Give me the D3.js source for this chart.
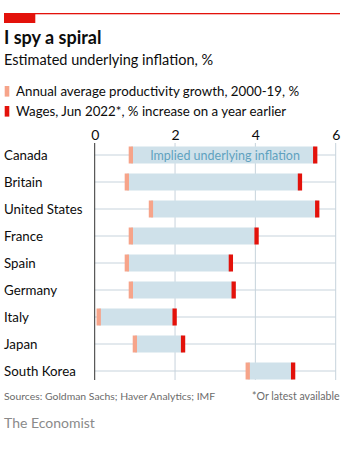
<!DOCTYPE html>
<html><head><meta charset="utf-8">
<script src="https://cdnjs.cloudflare.com/ajax/libs/d3/7.8.5/d3.min.js"></script>
<style>body{margin:0;background:#fff}svg{display:block}text{font-family:Lato,"Noto Sans",sans-serif}</style>
</head><body><svg id="c" width="364" height="453"></svg>
<script>
const countries = ["Canada","Britain","United States","France","Spain","Germany","Italy","Japan","South Korea"];
const productivity = [0.9,0.8,1.4,0.9,0.8,0.9,0.1,1.0,3.81];
const wages = [5.49,5.11,5.54,4.03,3.39,3.46,1.99,2.2,4.94];
const xTicks = [0,2,4,6];

const svg = d3.select("#c");
const x = d3.scaleLinear().domain([0,6]).range([94.7,335.7]);
const y = d3.scaleBand().domain(countries).range([141.5,384.5]).paddingInner(0.37).paddingOuter(0.185);
const bh = y.bandwidth();

// header
svg.append("rect").attr("x",4).attr("y",13).attr("width",336).attr("height",1.3).attr("fill","#e3120b");
svg.append("rect").attr("x",4).attr("y",13).attr("width",31.3).attr("height",10).attr("fill","#e3120b");
svg.append("text").attr("x",4).attr("y",44).attr("font-size",18).attr("font-weight",700).attr("fill","#0c0c0c").text("I spy a spiral");
svg.append("text").attr("x",4).attr("y",64.5).attr("font-size",14.5).attr("fill","#0c0c0c").text("Estimated underlying inflation, %");
// legend
const leg = [["#f6a48a","Annual average productivity growth, 2000-19, %",86],["#e3120b","Wages, Jun 2022*, % increase on a year earlier",106]];
leg.forEach(l=>{
  svg.append("rect").attr("x",4.7).attr("y",l[2]).attr("width",4.6).attr("height",10.6).attr("fill",l[0]);
  svg.append("text").attr("x",16).attr("y",l[2]+10).attr("font-size",13.3).attr("fill","#0c0c0c").text(l[1]);
});

// grid
const g = svg.append("g");
g.selectAll(".vg").data(xTicks.slice(1)).join("line").attr("x1",d=>x(d)).attr("x2",d=>x(d))
 .attr("y1",143).attr("y2",380).attr("stroke","#c7d3dc").attr("stroke-width",1);
g.selectAll(".hg").data(countries).join("line").attr("x1",x(0)).attr("x2",x(6))
 .attr("y1",d=>y(d)+bh/2).attr("y2",d=>y(d)+bh/2).attr("stroke","#c7d3dc").attr("stroke-width",1);
// ticks labels
const ax = svg.append("g").attr("transform","translate(0,140)").call(d3.axisTop(x).tickValues(xTicks).tickFormat(d3.format("d")).tickSize(0).tickPadding(0));
ax.select(".domain").remove();
ax.selectAll("text").attr("font-size",14).attr("fill","#0c0c0c").attr("font-family","Lato,sans-serif");

// bars
g.selectAll(".bar").data(countries).join("rect")
 .attr("x",(d,i)=>x(productivity[i])).attr("width",(d,i)=>x(wages[i])-x(productivity[i]))
 .attr("y",d=>y(d)).attr("height",bh).attr("fill","#cfe1ea");
g.selectAll(".pm").data(countries).join("rect")
 .attr("x",(d,i)=>x(productivity[i])-2.15).attr("width",4.3)
 .attr("y",d=>y(d)).attr("height",bh).attr("fill","#f6a48a");
g.selectAll(".wm").data(countries).join("rect")
 .attr("x",(d,i)=>x(wages[i])-2.15).attr("width",4.3)
 .attr("y",d=>y(d)).attr("height",bh).attr("fill","#e3120b");
// zero line
svg.append("line").attr("x1",x(0)).attr("x2",x(0)).attr("y1",143).attr("y2",380).attr("stroke","#333").attr("stroke-width",1);

// category labels
svg.selectAll(".cl").data(countries).join("text").attr("x",4).attr("y",d=>y(d)+bh/2+5)
 .attr("font-size",13.3).attr("fill","#0c0c0c").text(d=>d);

svg.append("text").attr("x",(x(productivity[0])+x(wages[0]))/2+2).attr("y",y(countries[0])+bh/2+4.5)
 .attr("text-anchor","middle").attr("font-size",12.5).attr("fill","#5fa1bf").text("Implied underlying inflation");

// footer
svg.append("text").attr("x",4).attr("y",400).attr("font-size",10.4).attr("fill","#6b6b6b").text("Sources: Goldman Sachs; Haver Analytics; IMF");
svg.append("text").attr("x",339.5).attr("y",400).attr("text-anchor","end").attr("font-size",10.6).attr("fill","#6b6b6b").text("*Or latest available");
svg.append("text").attr("x",4).attr("y",428).attr("font-size",14).attr("fill","#8a8a8a").attr("font-family","'Liberation Serif',serif").text("The Economist");
</script></body></html>
